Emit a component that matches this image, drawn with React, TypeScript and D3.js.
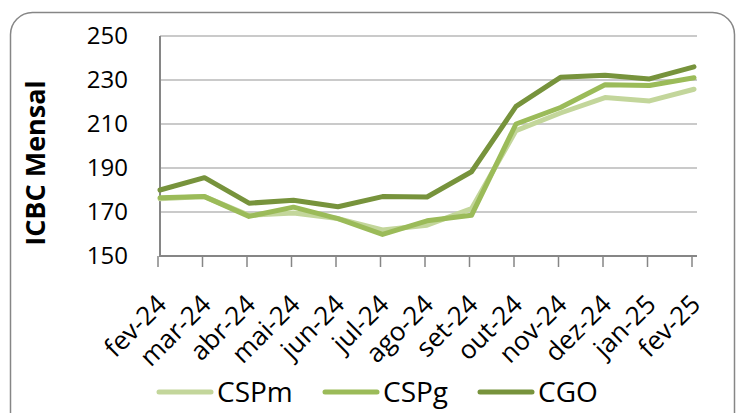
import React from "react";
import * as d3 from "d3";

const categories = ["fev-24","mar-24","abr-24","mai-24","jun-24","jul-24","ago-24","set-24","out-24","nov-24","dez-24","jan-25","fev-25"];
const cspm = [176, 177, 168.5, 169.5, 167, 161.8, 164, 171.5, 207, 215, 222, 220.5, 225.8];
const cspg = [176.5, 177, 168, 172.2, 167, 159.8, 166, 168.5, 210, 217.5, 227.8, 227.5, 231];
const cgo = [180, 185.6, 174, 175.3, 172.4, 177, 176.8, 188.3, 218, 231.2, 232.2, 230.5, 236];
const yTicks = [150, 170, 190, 210, 230, 250];
const seriesNames = ["CSPm", "CSPg", "CGO"];
const seriesColors = ["#c3d69b", "#9bbb59", "#77933c"];

export default function App() {
  const W = 737, H = 413;
  const x = d3.scalePoint<string>().domain(categories).range([160, 694]);
  const y = d3.scaleLinear().domain([150, 250]).range([256, 36]);
  const series = [cspm, cspg, cgo];
  const line = d3.line<number>().x((_, i) => x(categories[i])!).y(d => y(d));
  const legendX = [157, 323, 478];
  const font = "'Open Sans', sans-serif";
  return (
    <svg width={W} height={H} style={{ position: "absolute", left: 0, top: 0 }}>
      <rect x={0} y={0} width={W} height={H} fill="#fff" />
      <rect x={10.5} y={12.5} width={724} height={440} rx={22} fill="#fff" stroke="#868686" strokeWidth={1.5} />
      {yTicks.map(t => (
        <g key={t}>
          {t !== 150 && <line x1={160} x2={697} y1={y(t)} y2={y(t)} stroke="#b9b9b9" strokeWidth={1.5} />}
          <text x={128} y={y(t) + 8} textAnchor="end" fontFamily={font} fontSize={24} fill="#000">{t}</text>
        </g>
      ))}
      <line x1={160} x2={160} y1={36} y2={257} stroke="#868686" strokeWidth={2} />
      <line x1={160} x2={697} y1={256} y2={256} stroke="#868686" strokeWidth={2} />
      {categories.map(c => (
        <line key={c} x1={x(c)! - 2} x2={x(c)! - 2} y1={256} y2={267} stroke="#868686" strokeWidth={1.5} />
      ))}
      <text transform="translate(45,163) rotate(-90)" textAnchor="middle" fontFamily={font} fontWeight="bold" fontSize={27} fill="#000">ICBC Mensal</text>
      {series.map((s, i) => (
        <path key={i} d={line(s)!} fill="none" stroke={seriesColors[i]} strokeWidth={5} strokeLinejoin="round" strokeLinecap="round" />
      ))}
      {categories.map(c => (
        <text key={c} transform={`translate(${x(c)! + 8},306) rotate(-45)`} textAnchor="end" fontFamily={font} fontSize={26} fill="#000">{c}</text>
      ))}
      {seriesNames.map((n, i) => (
        <g key={n}>
          <line x1={legendX[i] + 2} x2={legendX[i] + 54} y1={392} y2={392} stroke={seriesColors[i]} strokeWidth={5} strokeLinecap="round" />
          <text x={legendX[i] + 60} y={402} fontFamily={font} fontSize={28} fill="#000">{n}</text>
        </g>
      ))}
    </svg>
  );
}
